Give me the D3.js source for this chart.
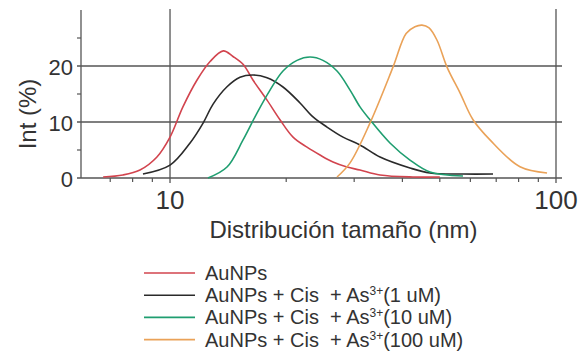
<!DOCTYPE html>
<html><head><meta charset="utf-8">
<script src="https://cdn.jsdelivr.net/npm/d3@7"></script>
<style>body{margin:0;background:#fff}svg{display:block}text{font-family:"Liberation Sans",Arial,sans-serif;fill:#333;white-space:pre}</style>
</head><body><svg width="587" height="352"></svg>
<script>
const seriesNames = ["AuNPs","AuNPs + Cis  + As","AuNPs + Cis  + As","AuNPs + Cis  + As"];
const seriesSuffix = ["","(1 uM)","(10 uM)","(100 uM)"];
const seriesColors = ["#d2444e","#2a2a2a","#1f9e70","#eaa258"];
const redX = [6.71,7.55,8.36,9.25,10,10.8,11.75,12.7,13.74,14.56,15.46,16.4,17.84,19.27,20.83,22.64,24.47,26.44,28.74,31.06,35.0,42.6,50.0];
const redY = [0.18,0.54,1.43,3.75,7.3,12.7,17.5,20.8,22.7,21.7,20.3,17.5,13.9,10.4,7.3,5.5,4.1,2.86,1.96,1.43,0.54,0.18,0.18];
const blackX = [8.51,10,11.27,12.18,12.93,14.05,15.18,16.41,17.84,19.62,21.72,23.47,25.51,28.07,31.06,35.0,41.85,47.15,57.41,68.68];
const blackY = [0.71,2.3,6.25,9.8,13.2,16.3,18.0,18.4,17.9,16.25,13.4,10.9,9.1,7.3,5.9,3.75,1.79,0.89,0.71,0.71];
const greenX = [12.54,14.05,15.46,16.8,18.16,19.62,21.33,23.05,24.9,27.08,29.27,31.06,32.96,37.14,41.85,47.15,57.41];
const greenY = [0,1.96,6.8,11.6,15.7,19.1,21.0,21.6,21.0,19.1,15.7,12.7,10.4,6.25,3.2,1.07,0.36];
const orangeX = [27.08,29.27,32.96,37.82,40.9,43.1,44.96,46.9,49.18,52.2,56.4,60.96,67.45,80.67,94.8];
const orangeY = [0.18,2.7,9.8,19.8,25.8,27.0,27.3,26.8,24.6,19.8,15.2,10.4,6.8,2.0,0.9];
const yTicks = [0,10,20];
const yMinor = [5,15,25];
const xTicks = [10,100];
const xMinor = [7,8,9,20,30,40,50,60,70,80,90];

const svg = d3.select("svg");
const x = d3.scaleLog().domain([5.88,100]).range([81,556]);
const y = d3.scaleLinear().domain([0,30]).range([178,10]);
const grid = "#555";

svg.selectAll("line.hg").data(yTicks).join("line")
  .attr("x1",77).attr("x2",562).attr("y1",d=>y(d)).attr("y2",d=>y(d))
  .attr("stroke",grid).attr("stroke-width",1.3);
svg.append("line").attr("x1",x(5.88)).attr("x2",x(5.88)).attr("y1",y(30)).attr("y2",y(0))
  .attr("stroke",grid).attr("stroke-width",1.3);
svg.selectAll("line.ym").data(yMinor).join("line")
  .attr("x1",77).attr("x2",81).attr("y1",d=>y(d)).attr("y2",d=>y(d))
  .attr("stroke",grid).attr("stroke-width",1.2);
svg.selectAll("line.vg").data(xTicks).join("line")
  .attr("x1",d=>x(d)).attr("x2",d=>x(d)).attr("y1",y(30)-1).attr("y2",y(0)+5)
  .attr("stroke",grid).attr("stroke-width",1.3);
svg.selectAll("line.xm").data(xMinor).join("line")
  .attr("x1",d=>x(d)).attr("x2",d=>x(d)).attr("y1",y(0)).attr("y2",y(0)+4)
  .attr("stroke",grid).attr("stroke-width",1.2);

svg.selectAll("text.yl").data(yTicks).join("text")
  .attr("x",73).attr("y",d=>y(d)+9).attr("text-anchor","end").attr("font-size",22).text(d=>d);
svg.selectAll("text.xl").data(xTicks).join("text")
  .attr("x",d=>x(d)).attr("y",209).attr("text-anchor","middle").attr("font-size",26).text(d=>d);
svg.append("text").attr("x",343.5).attr("y",238).attr("text-anchor","middle").attr("font-size",24)
  .text("Distribución tamaño (nm)");
svg.append("text").attr("transform","translate(36,114) rotate(-90)").attr("text-anchor","middle")
  .attr("font-size",24).text("Int (%)");

const series = [[redX,redY],[blackX,blackY],[greenX,greenY],[orangeX,orangeY]];
const line = d3.line().x(d=>x(d[0])).y(d=>y(d[1])).curve(d3.curveCatmullRom.alpha(0.5));
series.forEach((s,i)=>{
  const pts = s[0].map((v,j)=>[v,s[1][j]]);
  svg.append("path").attr("d",line(pts)).attr("fill","none")
    .attr("stroke",seriesColors[i]).attr("stroke-width",1.6);
});

const lg = svg.append("g");
seriesNames.forEach((n,i)=>{
  const yy = 273 + i*22.2;
  lg.append("line").attr("x1",144).attr("x2",195).attr("y1",yy).attr("y2",yy)
    .attr("stroke",seriesColors[i]).attr("stroke-width",1.6);
  const t = lg.append("text").attr("x",205).attr("y",yy+7).attr("font-size",20);
  t.append("tspan").text(n);
  if(i>0){
    t.append("tspan").attr("font-size",12).attr("dy",-7).text("3+");
    t.append("tspan").attr("dy",7).text(seriesSuffix[i]);
  }
});
</script></body></html>
